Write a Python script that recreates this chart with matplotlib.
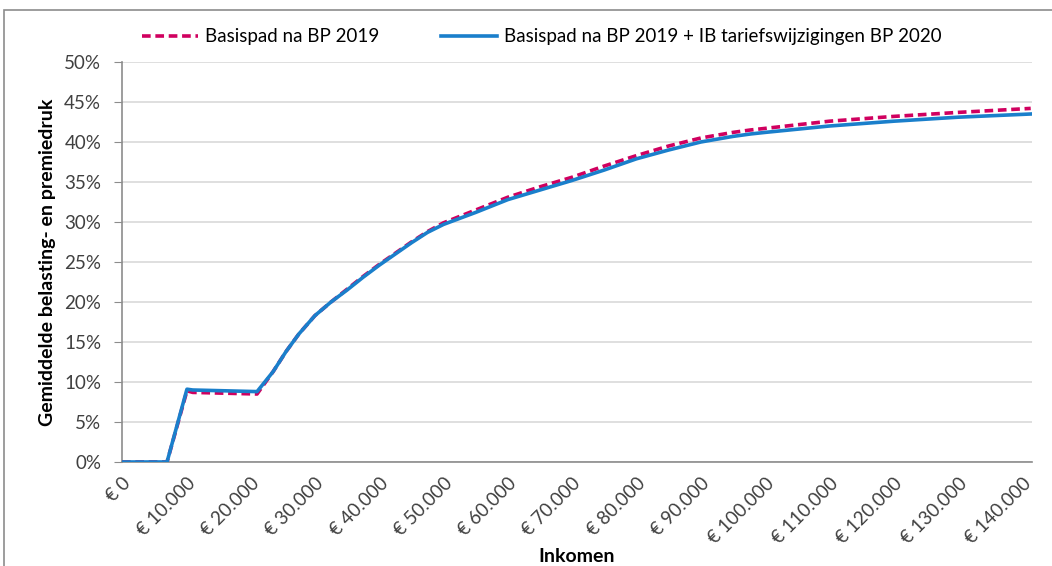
import matplotlib
matplotlib.use("Agg")
import matplotlib.pyplot as plt
from matplotlib.ticker import FuncFormatter, MultipleLocator, FixedLocator
from matplotlib.patches import Rectangle

plt.rcParams['font.family'] = ['Lato', 'DejaVu Sans']

# %% Data (inkomen in euro, druk in %)
inkomen = [0, 7000, 10100, 11000, 21000, 23500, 25500, 27500, 30000, 32500,
           35000, 37500, 40000, 42500, 45000, 47500, 50000, 55000, 60000,
           65000, 70000, 75000, 80000, 85000, 90000, 95000, 97700, 100000,
           110000, 120000, 130000, 141300]

basispad_2019 = [0, 0, 8.9, 8.7, 8.5, 11.3, 13.8, 16.0, 18.3, 20.0,
                 21.6, 23.2, 24.7, 26.1, 27.5, 28.8, 29.9, 31.5, 33.1,
                 34.4, 35.6, 37.0, 38.3, 39.5, 40.5, 41.2, 41.5, 41.7,
                 42.6, 43.2, 43.7, 44.2]

basispad_ib_2020 = [0, 0, 9.1, 9.0, 8.8, 11.3, 13.8, 16.0, 18.3, 20.0,
                    21.5, 23.1, 24.6, 26.0, 27.4, 28.7, 29.7, 31.2, 32.8,
                    34.0, 35.2, 36.5, 37.9, 39.0, 40.0, 40.7, 41.0, 41.2,
                    42.0, 42.6, 43.1, 43.5]

labels = ['Basispad na BP 2019', 'Basispad na BP 2019 + IB tariefswijzigingen BP 2020']

# %% Figuur
fig = plt.figure(figsize=(10.52, 5.66), dpi=100)
ax = fig.add_axes([122 / 1052, 1 - 462 / 566, (1032 - 122) / 1052, (462 - 62) / 566])

# rand om de grafiek (Excel-stijl)
fig.patches.append(Rectangle((4 / 1052, -0.05), 1.2, 1 - 10 / 566 + 0.05,
                             transform=fig.transFigure, fill=False,
                             edgecolor='#8c8c8c', linewidth=1.2))

l1, = ax.plot(inkomen, basispad_2019, color='#D0005F', linewidth=2.6,
              linestyle=(0, (2.4, 1.3)), zorder=3)
l2, = ax.plot(inkomen, basispad_ib_2020, color='#1A7FCB', linewidth=2.6,
              zorder=4)

ax.set_xlim(0, 141500)
ax.set_ylim(0, 50)

ax.yaxis.set_major_locator(MultipleLocator(5))
ax.yaxis.set_major_formatter(FuncFormatter(lambda v, p: f"{int(round(v))}%"))
ax.xaxis.set_major_locator(MultipleLocator(10000))
ax.xaxis.set_major_formatter(
    FuncFormatter(lambda v, p: "€ " + f"{int(v):,}".replace(",", ".")))
ax.xaxis.set_minor_locator(FixedLocator([0, 50000, 100000]))

ax.grid(axis='y', color='#d9d9d9', linewidth=1.2)
ax.set_axisbelow(True)

for s in ['top', 'right']:
    ax.spines[s].set_visible(False)
for s in ['left', 'bottom']:
    ax.spines[s].set_color('#8c8c8c')
    ax.spines[s].set_linewidth(1.2)

ax.tick_params(axis='y', length=6, color='#8c8c8c', labelsize=13.5,
               labelcolor='#404040', pad=9)
ax.tick_params(axis='x', which='major', length=0, labelsize=13.5,
               labelcolor='#404040', pad=9)
ax.tick_params(axis='x', which='minor', length=6, color='#8c8c8c')
plt.setp(ax.get_xticklabels(), rotation=45, ha='right', va='top',
         rotation_mode='anchor')

ax.set_ylabel('Gemiddelde belasting- en premiedruk', fontsize=14,
              fontweight='bold', labelpad=6)
ax.set_xlabel('Inkomen', fontsize=14, fontweight='bold', labelpad=1)

fig.legend([l1, l2], labels, loc='center', bbox_to_anchor=(0.515, 0.935),
           ncol=2, frameon=False, fontsize=13.5, handlelength=3.0,
           columnspacing=3.25, handletextpad=0.4)

fig.savefig('out.png', dpi=100)
